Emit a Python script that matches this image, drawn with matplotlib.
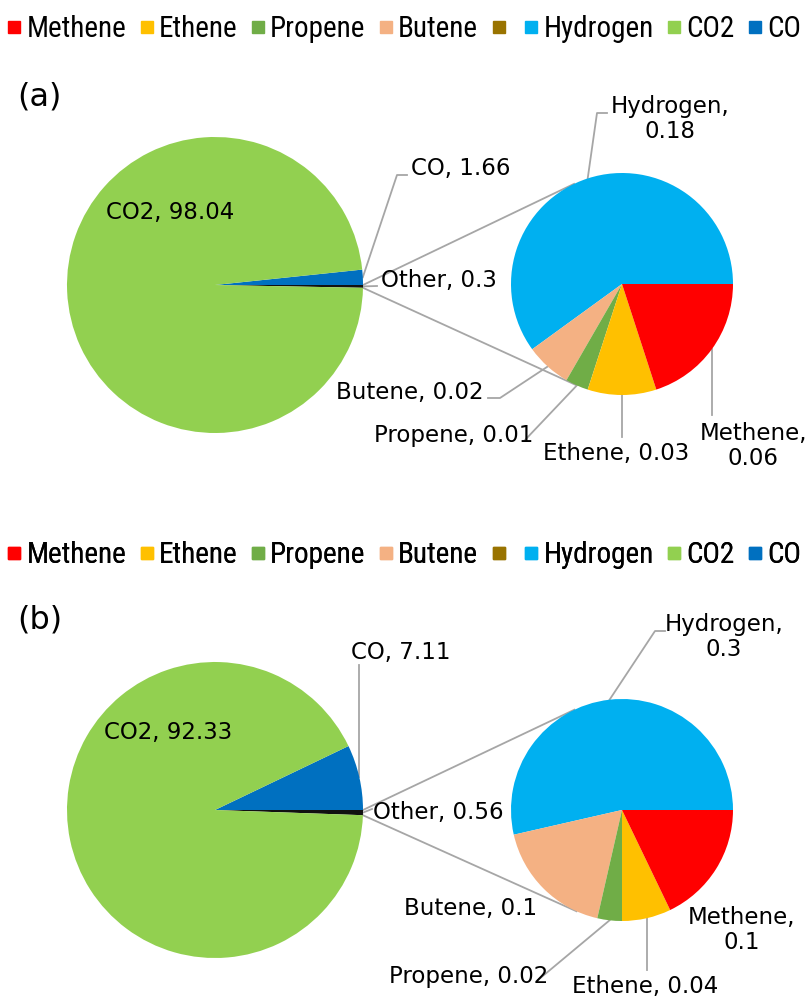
import numpy as np
import matplotlib.pyplot as plt
from matplotlib.lines import Line2D

# legend entries (the brown one has no name in the source chart)
legend_names = ['Methene', 'Ethene', 'Propene', 'Butene', '', 'Hydrogen', 'CO2', 'CO']
legend_colors = ['#FF0000', '#FFC000', '#70AD47', '#F4B183', '#997300', '#00B0F0', '#92D050', '#0070C0']

# primary pie: Other, CO, CO2
main_names = ['Other', 'CO', 'CO2']
main_colors = ['#111111', '#0070C0', '#92D050']
main_a = [0.3, 1.66, 98.04]
main_b = [0.56, 7.11, 92.33]

# secondary pie (breakdown of "Other")
sub_names = ['Hydrogen', 'Butene', 'Propene', 'Ethene', 'Methene']
sub_colors = ['#00B0F0', '#F4B183', '#70AD47', '#FFC000', '#FF0000']
sub_a = [0.18, 0.02, 0.01, 0.03, 0.06]
sub_b = [0.3, 0.1, 0.02, 0.04, 0.1]

W, H = 807, 996
GREY = '#A6A6A6'
FS = 16.5
LEG_FONT = ['Roboto Condensed', 'Liberation Sans Narrow', 'Open Sans Condensed', 'Roboto', 'DejaVu Sans']
LEG_FS = 21

fig = plt.figure(figsize=(W / 100, H / 100), dpi=100)
ax = fig.add_axes([0, 0, 1, 1])


def Y(y):
    return H - y


def edge(w, frac=0.5):
    cx, cy = w.center
    ang = np.deg2rad(w.theta1 + frac * (w.theta2 - w.theta1))
    return cx + w.r * np.cos(ang), cy + w.r * np.sin(ang)


def tangent(P, C, r, side):
    d = np.hypot(P[0] - C[0], P[1] - C[1])
    phi = np.arctan2(P[1] - C[1], P[0] - C[0])
    a = np.arccos(r / d)
    return C[0] + r * np.cos(phi + side * a), C[1] + r * np.sin(phi + side * a)


def draw_panel(main_vals, sub_vals, big_c, small_c, legend_y, tag, tag_y, pos, lead):
    big_r, small_r = 148, 111
    total = sum(main_vals)
    wm, _ = ax.pie(main_vals, colors=main_colors, startangle=-360 * main_vals[0] / total,
                   center=(big_c[0], Y(big_c[1])), radius=big_r, frame=True,
                   wedgeprops=dict(linewidth=0))
    ws, _ = ax.pie(sub_vals, colors=sub_colors, startangle=0,
                   center=(small_c[0], Y(small_c[1])), radius=small_r, frame=True,
                   wedgeprops=dict(linewidth=0))
    C = (small_c[0], Y(small_c[1]))
    # connector lines from "Other" slice to the secondary pie
    p_top = edge(wm[0], 1.0)
    p_bot = edge(wm[0], 0.0)
    t_top = tangent(p_top, C, small_r, -1)
    t_bot = tangent(p_bot, C, small_r, 1)
    ax.plot([p_top[0], t_top[0]], [p_top[1], t_top[1]], color=GREY, lw=1.3, zorder=0.5)
    ax.plot([p_bot[0], t_bot[0]], [p_bot[1], t_bot[1]], color=GREY, lw=1.3, zorder=0.5)

    wedges = dict(zip(main_names, wm))
    wedges.update(zip(sub_names, ws))
    values = dict(zip(main_names, main_vals))
    values.update(zip(sub_names, sub_vals))
    for name, (x, y, ha, wrap) in pos.items():
        sep = ',\n' if wrap else ', '
        ax.text(x, Y(y), f'{name}{sep}{values[name]:g}', ha=ha, va='center',
                fontsize=FS, multialignment='center', linespacing=1.15)
        if name in lead:
            sx, sy = edge(wedges[name])
            xs, ys = [sx], [sy]
            for px, py in lead[name]:
                xs.append(sx if px is None else px)
                ys.append(Y(py))
            ax.plot(xs, ys, color=GREY, lw=1.3, zorder=0.5)

    ax.text(17, Y(tag_y), tag, fontsize=23, va='center')
    handles = [Line2D([], [], marker='s', ls='', color=c, markersize=9) for c in legend_colors]
    ax.add_artist(ax.legend(handles, legend_names, loc='center left',
                            bbox_to_anchor=(8 / W, Y(legend_y) / H), ncol=8, frameon=False,
                            prop=dict(family=LEG_FONT, size=LEG_FS),
                            handlelength=0.43, handletextpad=0.2, columnspacing=0.49,
                            borderpad=0, borderaxespad=0))


pos_a = {
    'CO2': (170, 212, 'center', False),
    'CO': (411, 168, 'left', False),
    'Other': (381, 280, 'left', False),
    'Hydrogen': (670, 119, 'center', True),
    'Butene': (483, 392, 'right', False),
    'Propene': (533, 435, 'right', False),
    'Ethene': (616, 453, 'center', False),
    'Methene': (753, 446, 'center', True),
}
lead_a = {
    'CO': [(397, 175), (407, 175)],
    'Other': [(377, 286)],
    'Hydrogen': [(597, 113), (607, 113)],
    'Butene': [(500, 398), (488, 398)],
    'Propene': [(525, 440)],
    'Ethene': [(None, 437)],
    'Methene': [(None, 415)],
}
pos_b = {
    'CO2': (168, 733, 'center', False),
    'CO': (351, 652, 'left', False),
    'Other': (373, 812, 'left', False),
    'Hydrogen': (724, 637, 'center', True),
    'Butene': (537, 908, 'right', False),
    'Propene': (548, 977, 'right', False),
    'Ethene': (645, 986, 'center', False),
    'Methene': (742, 930, 'center', True),
}
lead_b = {
    'CO': [(None, 665)],
    'Other': [(372, 809)],
    'Hydrogen': [(655, 631), (665, 631)],
    'Propene': [(538, 980)],
    'Ethene': [(None, 970)],
}

draw_panel(main_a, sub_a, (215, 285), (622, 284), 29, '(a)', 97, pos_a, lead_a)
draw_panel(main_b, sub_b, (215, 810), (622, 810), 555, '(b)', 620, pos_b, lead_b)

ax.set_xlim(0, W)
ax.set_ylim(0, H)
ax.set_aspect('equal')
ax.axis('off')
fig.savefig('out.png', dpi=100)
